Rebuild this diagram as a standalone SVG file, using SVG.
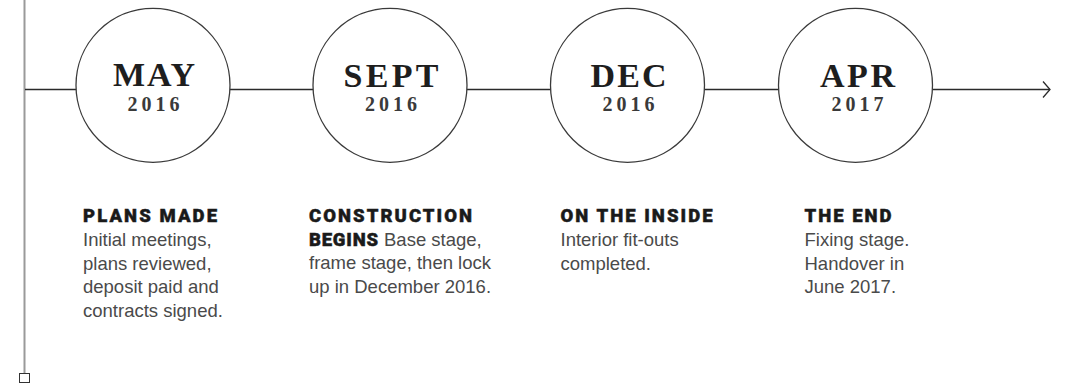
<svg xmlns="http://www.w3.org/2000/svg" width="1068" height="383" viewBox="0 0 1068 383">
<style>
.ring{fill:#fff;stroke:#3a3a3a;stroke-width:1.3}
.mon{font-family:"Liberation Serif","DejaVu Serif",serif;font-weight:bold;font-size:34px;fill:#1e1e1e;text-anchor:middle}
.yr{font-family:"Liberation Serif","DejaVu Serif",serif;font-weight:bold;font-size:20px;fill:#3a3a3a;text-anchor:middle}
.hd{font-family:Roboto,"Liberation Sans",Arial,sans-serif;font-weight:900;font-size:18.5px;fill:#1a1a1a;stroke:#1a1a1a;stroke-width:0.45}
.bd{font-family:"Liberation Sans",Arial,sans-serif;font-size:18.5px;fill:#4a4a4a}
.ln{fill:none;stroke:#2a2a2a;stroke-width:1.3}
</style>
<rect width="1068" height="383" fill="#fff"/>
<g id="axis">
<line x1="24.5" y1="0" x2="24.5" y2="373" stroke="#9a9a9a" stroke-width="2"/>
<rect x="19.5" y="373.5" width="10" height="9" fill="#fff" stroke="#333" stroke-width="1"/>
</g>
<g id="connectors">
<path class="ln" d="M25 89.5H76M230 89.5H313M467 89.5H551M704 89.5H778.5M932.5 89.5H1050"/>
<polyline class="ln" points="1043,81.5 1050,89.5 1043,97.5"/>
</g>
<g id="node-may">
<circle class="ring" cx="153" cy="85.3" r="77"/>
<text class="mon" x="154" y="86" textLength="82" lengthAdjust="spacing">MAY</text>
<text class="yr" x="153.5" y="111" textLength="52" lengthAdjust="spacing">2016</text>
</g>
<g id="node-sept">
<circle class="ring" cx="390" cy="85.3" r="77"/>
<text class="mon" x="391" y="86.5" textLength="95" lengthAdjust="spacing">SEPT</text>
<text class="yr" x="391" y="111" textLength="52" lengthAdjust="spacing">2016</text>
</g>
<g id="node-dec">
<circle class="ring" cx="627.5" cy="85.3" r="77"/>
<text class="mon" x="628.5" y="86.5" textLength="76" lengthAdjust="spacing">DEC</text>
<text class="yr" x="628.5" y="111" textLength="52" lengthAdjust="spacing">2016</text>
</g>
<g id="node-apr">
<circle class="ring" cx="855.5" cy="85.3" r="77"/>
<text class="mon" x="857.5" y="86.5" textLength="75" lengthAdjust="spacing">APR</text>
<text class="yr" x="857.5" y="111" textLength="52" lengthAdjust="spacing">2017</text>
</g>
<g id="label-plans">
<text class="hd" x="83" y="222" textLength="134" lengthAdjust="spacing">PLANS MADE</text>
<text class="bd" x="83" y="246">Initial meetings,</text>
<text class="bd" x="83" y="269.5">plans reviewed,</text>
<text class="bd" x="83" y="293">deposit paid and</text>
<text class="bd" x="83" y="316.5">contracts signed.</text>
</g>
<g id="label-construction">
<text class="hd" x="309" y="222" textLength="163" lengthAdjust="spacing">CONSTRUCTION</text>
<text class="hd" x="309" y="245.5" textLength="69" lengthAdjust="spacing">BEGINS</text>
<text class="bd" x="384" y="245.5">Base stage,</text>
<text class="bd" x="309" y="269">frame stage, then lock</text>
<text class="bd" x="309" y="292.5">up in December 2016.</text>
</g>
<g id="label-inside">
<text class="hd" x="560.5" y="222" textLength="152" lengthAdjust="spacing">ON THE INSIDE</text>
<text class="bd" x="560.5" y="246">Interior fit-outs</text>
<text class="bd" x="560.5" y="269.5">completed.</text>
</g>
<g id="label-end">
<text class="hd" x="804.5" y="222" textLength="87" lengthAdjust="spacing">THE END</text>
<text class="bd" x="804.5" y="246">Fixing stage.</text>
<text class="bd" x="804.5" y="269.5">Handover in</text>
<text class="bd" x="804.5" y="293">June 2017.</text>
</g>
</svg>
